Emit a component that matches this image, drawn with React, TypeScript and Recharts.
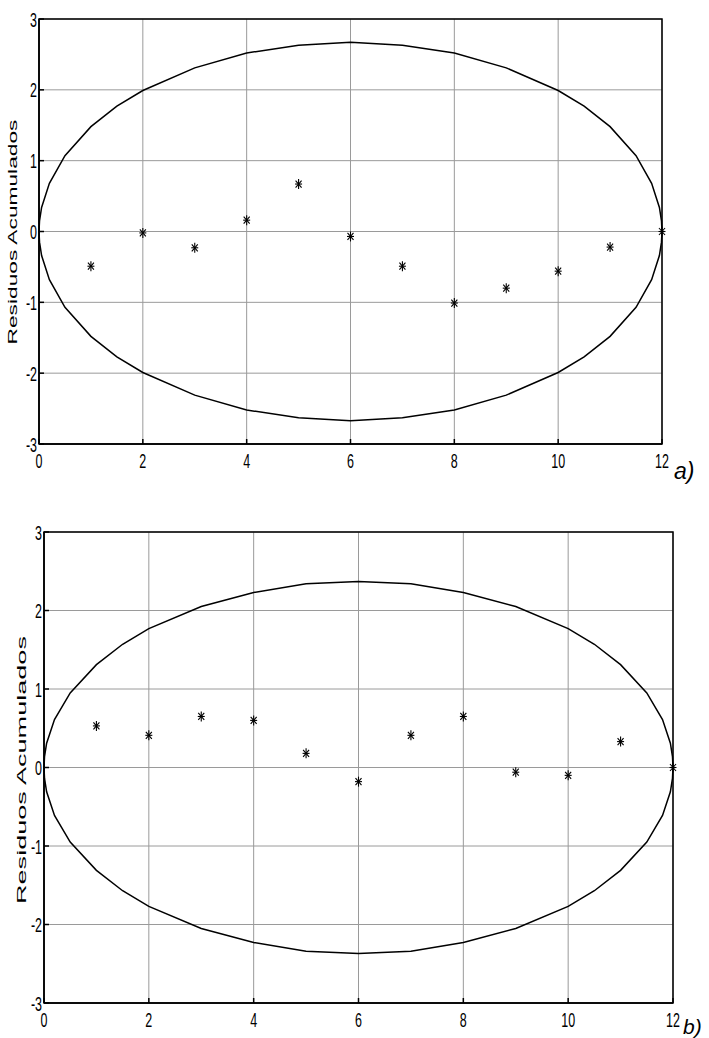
import React from "react";
import { ScatterChart, Scatter, XAxis, YAxis, CartesianGrid, ReferenceArea } from "recharts";

const xTicks = [0, 2, 4, 6, 8, 10, 12];
const yTicks = [-3, -2, -1, 0, 1, 2, 3];

const steps = [1, 2, 3, 4, 5, 6, 7, 8, 9, 10, 11, 12];
const residA = [-0.49, -0.02, -0.23, 0.16, 0.67, -0.07, -0.49, -1.01, -0.8, -0.56, -0.22, 0.0];
const residB = [0.53, 0.41, 0.65, 0.6, 0.18, -0.18, 0.41, 0.65, -0.06, -0.1, 0.33, 0.0];

const ellipseX = [0, 0.01, 0.05, 0.2, 0.5, 1, 1.5, 2, 3, 4, 5, 6, 7, 8, 9, 10, 10.5, 11, 11.5, 11.8, 11.95, 11.99, 12];
const ellipseA = [0, 0.15, 0.34, 0.68, 1.07, 1.48, 1.77, 1.99, 2.31, 2.52, 2.63, 2.67, 2.63, 2.52, 2.31, 1.99, 1.77, 1.48, 1.07, 0.68, 0.34, 0.15, 0];
const ellipseB = [0, 0.14, 0.31, 0.61, 0.95, 1.31, 1.57, 1.77, 2.05, 2.23, 2.34, 2.37, 2.34, 2.23, 2.05, 1.77, 1.57, 1.31, 0.95, 0.61, 0.31, 0.14, 0];

const yLabel = "Residuos Acumulados";

function closedEllipse(half: number[]) {
  const upper = ellipseX.map((x, i) => ({ x, y: half[i] }));
  const lower = ellipseX.map((x, i) => ({ x, y: -half[i] })).reverse();
  return [...upper, ...lower];
}

const Asterisk = (props: any) => {
  const { cx, cy } = props;
  if (cx == null || cy == null) return <g />;
  return (
    <g stroke="#000" strokeWidth={1.1}>
      <line x1={cx} y1={cy - 5} x2={cx} y2={cy + 5} />
      <line x1={cx - 3.5} y1={cy} x2={cx + 3.5} y2={cy} />
      <line x1={cx - 3} y1={cy - 3.5} x2={cx + 3} y2={cy + 3.5} />
      <line x1={cx - 3} y1={cy + 3.5} x2={cx + 3} y2={cy - 3.5} />
    </g>
  );
};

const NoShape = () => <g />;

const FONT = "'Liberation Sans', Arial, sans-serif";

const XTick = (props: any) => {
  const { x, y, payload } = props;
  return (
    <g transform={`translate(${x},${y + 17}) scale(0.64,1)`}>
      <text x={0} y={0} textAnchor="middle" fontFamily={FONT} fontSize={19.5} fill="#000">
        {payload.value}
      </text>
    </g>
  );
};

const YTick = (props: any) => {
  const { x, y, payload } = props;
  return (
    <g transform={`translate(${x},${y + 7.5}) scale(0.64,1)`}>
      <text x={0} y={0} textAnchor="end" fontFamily={FONT} fontSize={19.5} fill="#000">
        {payload.value}
      </text>
    </g>
  );
};

function Panel(props: {
  width: number;
  height: number;
  margin: any;
  resid: number[];
  half: number[];
}) {
  const pts = steps.map((x, i) => ({ x, y: props.resid[i] }));
  const ell = closedEllipse(props.half);
  return (
    <ScatterChart width={props.width} height={props.height} margin={props.margin}>
      <CartesianGrid stroke="#9a9a9a" strokeWidth={1} />
      <XAxis
        type="number"
        dataKey="x"
        domain={[0, 12]}
        ticks={xTicks}
        interval={0}
        height={20}
        stroke="#000"
        strokeWidth={1.5}
        tickSize={-5}
        tickMargin={12}
        tick={<XTick />}
      />
      <YAxis
        type="number"
        dataKey="y"
        domain={[-3, 3]}
        ticks={yTicks}
        interval={0}
        width={20}
        stroke="#000"
        strokeWidth={1.5}
        tickSize={-5}
        tickMargin={7}
        tick={<YTick />}
      />
      <ReferenceArea
        x1={0}
        x2={12}
        y1={-3}
        y2={3}
        fill="none"
        fillOpacity={0}
        stroke="#000"
        strokeWidth={1.5}
        ifOverflow="visible"
      />
      <Scatter
        data={ell}
        line={{ stroke: "#000", strokeWidth: 1.5 }}
        lineType="joint"
        shape={NoShape}
        isAnimationActive={false}
      />
      <Scatter data={pts} shape={Asterisk} isAnimationActive={false} />
    </ScatterChart>
  );
}

export default function App() {
  return (
    <div
      style={{
        position: "absolute",
        left: 0,
        top: 0,
        width: 709,
        height: 1038,
        background: "#fff",
        overflow: "hidden",
      }}
    >
      <div style={{ position: "absolute", left: 0, top: 0 }}>
        <Panel
          width={709}
          height={482}
          margin={{ top: 19, left: 19, right: 47, bottom: 18 }}
          resid={residA}
          half={ellipseA}
        />
      </div>
      <div style={{ position: "absolute", left: 0, top: 500 }}>
        <Panel
          width={709}
          height={538}
          margin={{ top: 32, left: 24, right: 36, bottom: 15 }}
          resid={residB}
          half={ellipseB}
        />
      </div>
      <svg
        width={709}
        height={1038}
        style={{ position: "absolute", left: 0, top: 0, pointerEvents: "none" }}
      >
        <text
          transform="translate(17,232) rotate(-90)"
          textAnchor="middle"
          fontFamily={FONT}
          fontSize={13}
          textLength={225}
          lengthAdjust="spacingAndGlyphs"
          fill="#000"
        >
          {yLabel}
        </text>
        <text
          transform="translate(26,770) rotate(-90)"
          textAnchor="middle"
          fontFamily={FONT}
          fontSize={13}
          textLength={268}
          lengthAdjust="spacingAndGlyphs"
          fill="#000"
        >
          {yLabel}
        </text>
        <text x={674} y={479} fontFamily={FONT} fontStyle="italic" fontSize={23} fill="#000">
          a)
        </text>
        <text x={683} y={1034} fontFamily={FONT} fontStyle="italic" fontSize={21} fill="#000">
          b)
        </text>
      </svg>
    </div>
  );
}
